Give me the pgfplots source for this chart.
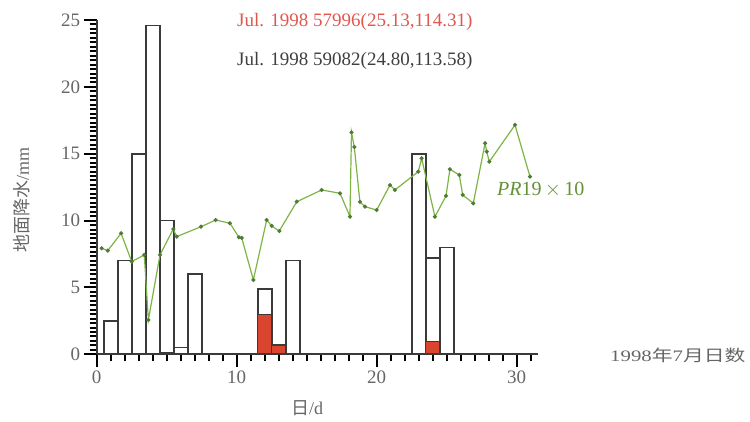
\documentclass[border=0pt]{standalone}
\usepackage{pgfplots}
\pgfplotsset{compat=1.18}
\usepackage{graphicx}
\usepackage{fontspec}
\setmainfont{Liberation Serif}
\newfontfamily\cjk{Noto Sans CJK SC}
\definecolor{redtext}{HTML}{E0574F}
\definecolor{graytext}{HTML}{3F3F3F}
\definecolor{ticklab}{HTML}{666666}
\definecolor{greenline}{HTML}{7DB543}
\definecolor{markgreen}{HTML}{4F7A3A}
\definecolor{barred}{HTML}{D9452F}
\definecolor{barline}{HTML}{3A3A3A}
\begin{document}
\begin{tikzpicture}
\begin{axis}[
  at={(96.7pt,67.7pt)}, anchor=south west,
  scale only axis, width=441pt, height=334.3pt,
  xmin=0, xmax=31.5, ymin=0, ymax=25,
  axis x line*=bottom, axis y line*=left,
  axis line style={-, draw=barline, line width=1.6pt},
  xtick={0,10,20,30}, minor xtick={0,1,...,31},
  ytick={0,5,10,15,20,25}, minor ytick={0,0.3333,...,25},
  xtick align=outside, ytick align=outside,
  tickwidth=13pt, subtickwidth=7pt,
  every tick/.style={draw=black, line width=2pt},
  axis on top,
  tick label style={font=\fontsize{19}{19}\selectfont, text=ticklab},
  xticklabel={\pgfmathprintnumber[assume math mode=true]{\tick}},
  yticklabel={\pgfmathprintnumber[assume math mode=true]{\tick}},
]
% station 59082 (outline bars)
\addplot[ybar, bar width=1, bar shift=0pt, fill=white, draw=barline, line width=1.6pt] coordinates {
(1,2.5) (2,7.0) (3,15.0) (4,24.6) (5,10.0) (6,0.5) (7,6.0)
(12,4.9) (13,0.7) (14,7.0)
(23,15.0) (24,7.2) (25,8.0)
};
% station 57996 (red bars)
\addplot[ybar, bar width=1, bar shift=0pt, fill=barred, draw=barline, line width=1.3pt] coordinates {
(5,0.1) (12,3.0) (13,0.65) (24,0.95)
};
% PR19 x 10
\addplot[color=greenline, line width=1.2pt, mark=*, mark size=1.4pt,
  mark options={fill=markgreen, draw=markgreen}] coordinates {
(0.36,7.93) (0.79,7.75) (1.74,9.05) (2.5,6.93) (3.4,7.43) (3.69,2.57)
(4.52,7.43) (5.47,9.37) (5.71,8.8) (7.45,9.54) (8.5,10.04) (9.52,9.8)
(10.16,8.75) (10.36,8.7) (11.19,5.56) (12.14,10.04) (12.5,9.6) (13.04,9.22)
(14.29,11.41) (16.07,12.29) (17.38,12.04) (18.09,10.3) (18.2,16.6)
(18.4,15.5) (18.8,11.4) (19.16,11.04) (20.0,10.79) (20.95,12.66)
(21.3,12.29) (22.97,13.66) (23.21,14.66) (24.16,10.29) (24.95,11.84)
(25.23,13.84) (25.9,13.41) (26.14,11.92) (26.9,11.29) (27.74,15.78)
(27.86,15.15) (28.04,14.4) (29.88,17.15) (30.95,13.28)
};
\end{axis}
\node[anchor=west, text=redtext, font=\fontsize{19}{19}\selectfont, inner sep=0pt] at (237pt,400pt) {Jul. 1998 57996(25.13,114.31)};
\node[anchor=west, text=graytext, font=\fontsize{19}{19}\selectfont, inner sep=0pt] at (237pt,361pt) {Jul. 1998 59082(24.80,113.58)};
\node[anchor=west, text=greenline!80!black, font=\fontsize{20}{20}\selectfont, inner sep=0pt] at (497pt,232pt) {\textit{PR}19\,$\times$\,10};
\node[anchor=west, text=ticklab, inner sep=0pt] at (610pt,67pt) {\scalebox{1.3}[1]{\fontsize{16}{16}\selectfont 1998{\cjk 年}7{\cjk 月日数}}};
\node[text=ticklab, inner sep=0pt] at (307pt,14pt) {\fontsize{18}{18}\selectfont{\cjk 日}/d};
\node[text=ticklab, inner sep=0pt, rotate=90] at (22pt,222pt) {\fontsize{18}{18}\selectfont{\cjk 地面降水}/mm};
\path (0,0) rectangle (750pt,422pt);
\end{tikzpicture}
\end{document}
